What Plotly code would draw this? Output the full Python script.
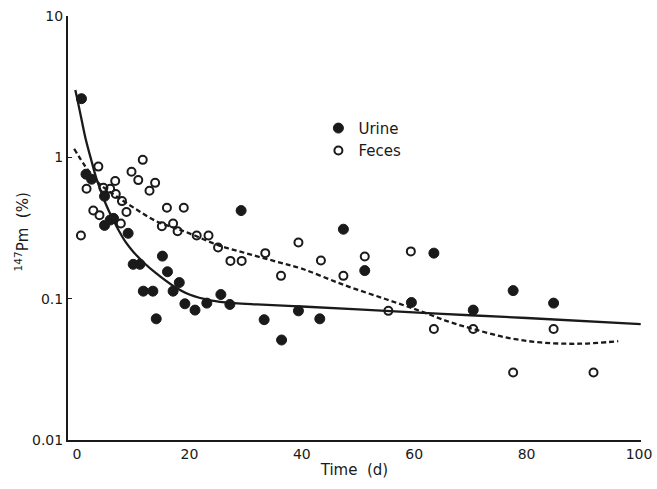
import plotly.graph_objects as go

# ---- data ----
urine_day = [0.8, 1.6, 2.6, 4.9, 4.9, 5.9, 6.5, 9.1, 10.0, 11.2, 11.8, 13.5, 14.1, 15.2,
             16.1, 17.1, 18.2, 19.2, 21.0, 23.1, 25.6, 27.2, 29.2, 33.3, 36.4, 39.4,
             43.2, 47.4, 51.2, 59.5, 63.5, 70.5, 77.6, 84.8]
urine_pct = [2.6, 0.76, 0.70, 0.53, 0.33, 0.36, 0.37, 0.29, 0.175, 0.175, 0.113, 0.113, 0.072, 0.20,
             0.155, 0.113, 0.13, 0.092, 0.083, 0.093, 0.107, 0.091, 0.42, 0.071, 0.051, 0.082,
             0.072, 0.31, 0.158, 0.094, 0.21, 0.083, 0.114, 0.093]

feces_day = [0.7, 1.7, 2.9, 3.8, 4.0, 4.7, 5.9, 6.8, 6.9, 7.8, 8.0, 8.8, 9.7, 10.9, 11.7,
             12.9, 13.9, 15.1, 16.0, 17.1, 17.9, 19.0, 21.3, 23.4, 25.1, 27.3, 29.3, 33.5,
             36.3, 39.4, 43.4, 47.4, 51.2, 55.4, 59.4, 63.5, 70.5, 77.6, 84.8, 91.9]
feces_pct = [0.28, 0.60, 0.42, 0.86, 0.39, 0.61, 0.60, 0.68, 0.55, 0.34, 0.49, 0.41, 0.79, 0.69, 0.96,
             0.58, 0.66, 0.325, 0.44, 0.34, 0.30, 0.44, 0.28, 0.28, 0.23, 0.185, 0.185, 0.21,
             0.145, 0.25, 0.186, 0.145, 0.199, 0.082, 0.216, 0.061, 0.061, 0.030, 0.061, 0.030]

# fitted curves
urine_fit_day = [-0.3, 0, 0.8, 1.6, 2.5, 3.4, 4.3, 5.2, 6.3, 7.5, 8.7, 10, 12, 14, 17, 20,
                 24, 28, 32, 40, 50, 65, 80, 100.3]
urine_fit_pct = [3.0, 2.65, 1.86, 1.32, 0.97, 0.72, 0.57, 0.46, 0.37, 0.30, 0.25, 0.215, 0.178,
                 0.152, 0.124, 0.107, 0.097, 0.093, 0.091, 0.088, 0.084, 0.078, 0.073, 0.066]

feces_fit_day = [-0.5, 1.5, 4, 7, 10.5, 14, 17.5, 20, 25, 30, 35, 40, 47.5, 55, 61, 66,
                 70.5, 76.5, 82.5, 89.5, 96.3]
feces_fit_pct = [1.15, 0.86, 0.65, 0.53, 0.43, 0.355, 0.315, 0.29, 0.24, 0.21, 0.185, 0.163,
                 0.125, 0.099, 0.082, 0.069, 0.061, 0.053, 0.049, 0.048, 0.050]

x_ticks = [0, 20, 40, 60, 80, 100]
y_ticks = [0.01, 0.1, 1, 10]
y_tick_text = ["0.01", "0.1", "1", "10"]

INK = "#1a1a1a"
FONT = "DejaVu Sans"

fig = go.Figure()
fig.add_trace(go.Scatter(x=urine_fit_day, y=urine_fit_pct, mode="lines", line_shape="spline",
                         line=dict(color=INK, width=2.3), showlegend=False, hoverinfo="skip"))
fig.add_trace(go.Scatter(x=feces_fit_day, y=feces_fit_pct, mode="lines", line_shape="spline",
                         line=dict(color=INK, width=2.3, dash="5px,3px"), showlegend=False,
                         hoverinfo="skip"))
fig.add_trace(go.Scatter(x=urine_day, y=urine_pct, mode="markers", name="Urine",
                         marker=dict(symbol="circle", size=10, color=INK,
                                     line=dict(color=INK, width=1))))
fig.add_trace(go.Scatter(x=feces_day, y=feces_pct, mode="markers", name="Feces",
                         marker=dict(symbol="circle-open", size=8, color=INK,
                                     line=dict(color=INK, width=2))))

fig.update_layout(
    width=657, height=489,
    margin=dict(l=68, r=16, t=16, b=49),
    paper_bgcolor="white", plot_bgcolor="white",
    font=dict(family=FONT, size=14, color=INK),
    legend=dict(x=0.437, y=0.774, xanchor="left", yanchor="top", bgcolor="rgba(0,0,0,0)",
                font=dict(size=15), tracegroupgap=0, itemwidth=30),
    annotations=[dict(text="<sup>147</sup>Pm  (%)", xref="paper", yref="paper",
                      x=-0.08, y=0.49, textangle=-90, showarrow=False,
                      font=dict(size=15, color=INK), xanchor="center", yanchor="middle")],
)
fig.update_xaxes(range=[-1.6, 100.35], tickvals=x_ticks, showline=True, linecolor=INK,
                 linewidth=2, ticks="", showgrid=False, zeroline=False, automargin=False,
                 title=dict(text="Time  (d)", font=dict(size=15), standoff=4),
                 tickfont=dict(size=14))
fig.update_yaxes(type="log", range=[-2, 1], tickvals=y_ticks, ticktext=y_tick_text,
                 showline=True, linecolor=INK, linewidth=2, ticks="inside", ticklen=4,
                 tickcolor=INK, showgrid=False, zeroline=False, automargin=False,
                 tickfont=dict(size=14))

fig.write_html("out.html", config={"displayModeBar": False},
               post_script="document.body.style.margin='0';document.body.style.overflow='hidden';")
